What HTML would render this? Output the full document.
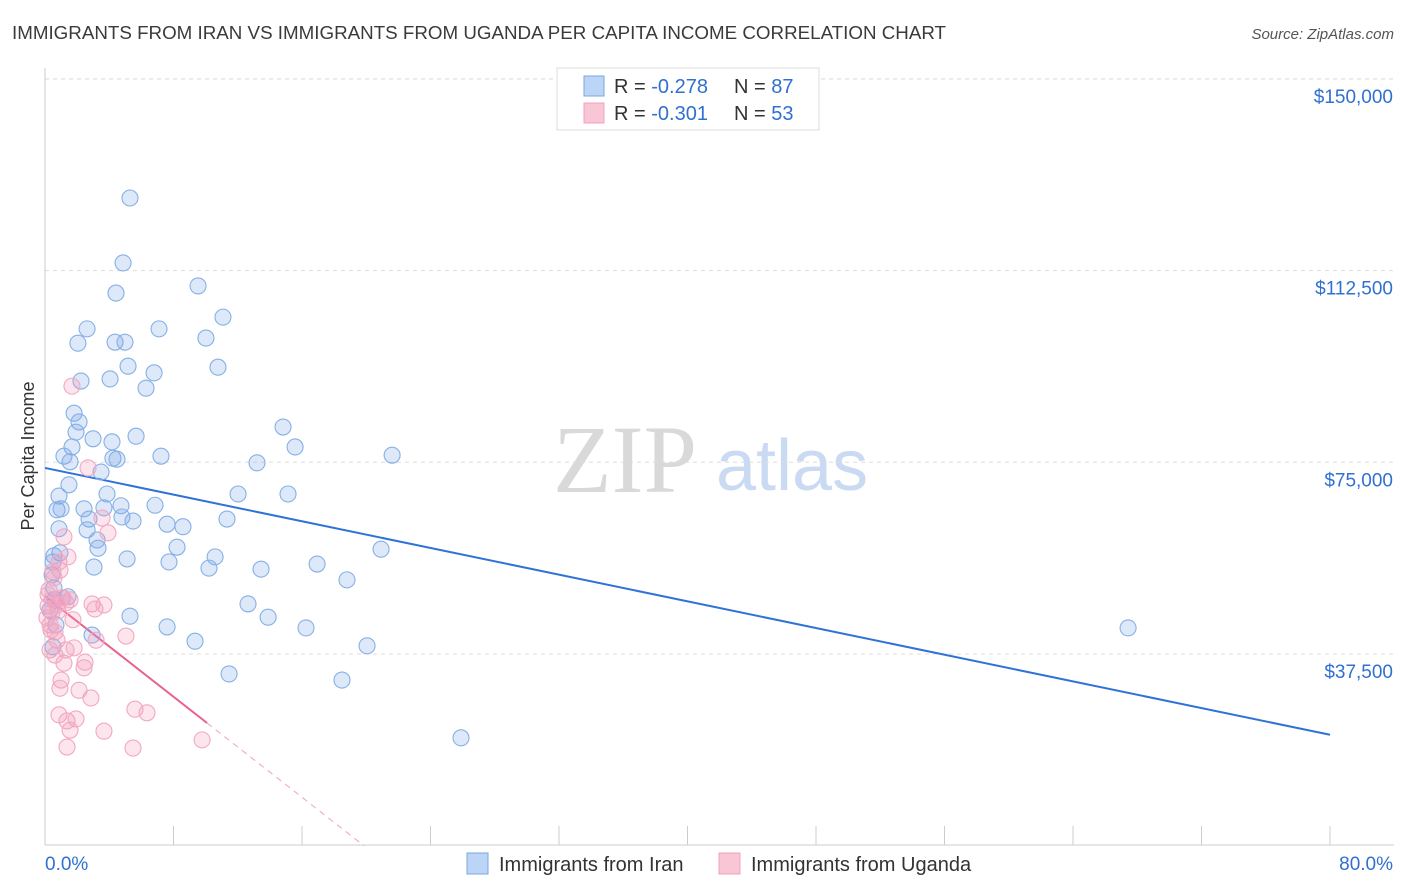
<!DOCTYPE html>
<html><head><meta charset="utf-8"><style>
body{margin:0;background:#fff;font-family:"Liberation Sans",sans-serif;}
svg{display:block}
</style></head><body>
<svg id="chart" width="1406" height="892" xmlns="http://www.w3.org/2000/svg">
<text x="12" y="39" font-size="18" fill="#3a3a3a" textLength="934" lengthAdjust="spacingAndGlyphs">IMMIGRANTS FROM IRAN VS IMMIGRANTS FROM UGANDA PER CAPITA INCOME CORRELATION CHART</text>
<text x="1394" y="39" font-size="15" fill="#555" font-style="italic" text-anchor="end">Source: ZipAtlas.com</text>
<g>
<text x="553" y="492" font-size="96" fill="#d9d9d9" font-family="Liberation Serif,serif">ZIP</text>
<text x="716" y="490" font-size="72" fill="#c9daf2">atlas</text>
</g>
<g id="grid"></g>
<g id="axes"></g>
<g id="lines"></g>
<g id="pts"></g>
<text transform="translate(34,456) rotate(-90)" font-size="18" fill="#333" text-anchor="middle">Per Capita Income</text>
<g>
<rect x="557" y="68" width="262" height="62" fill="#fff" stroke="#ddd"/>
<rect x="584" y="76" width="20" height="20" fill="#bcd4f5" stroke="#7aa7e0"/>
<rect x="584" y="103" width="20" height="20" fill="#f9c6d6" stroke="#f0a0bd"/>
<text x="614" y="93" font-size="20" fill="#333">R = <tspan fill="#3070d0">-0.278</tspan></text>
<text x="734" y="93" font-size="20" fill="#333">N = <tspan fill="#3070d0">87</tspan></text>
<text x="614" y="120" font-size="20" fill="#333">R = <tspan fill="#3070d0">-0.301</tspan></text>
<text x="734" y="120" font-size="20" fill="#333">N = <tspan fill="#3070d0">53</tspan></text>
</g>
<g>
<rect x="467" y="853" width="21" height="21" fill="#bcd4f5" stroke="#7aa7e0"/>
<text x="499" y="871" font-size="20" fill="#333">Immigrants from Iran</text>
<rect x="719" y="853" width="21" height="21" fill="#f9c6d6" stroke="#f0a0bd"/>
<text x="751" y="871" font-size="20" fill="#333">Immigrants from Uganda</text>
</g>
</svg>
<script>
const yTicks=[37500,75000,112500,150000];
const yTickLabels=["$37,500","$75,000","$112,500","$150,000"];
const xTicks=[0,8,16,24,32,40,48,56,64,72,80];
const xEndLabels=["0.0%","80.0%"];
const iranX=[5.29,4.86,4.42,9.53,11.08,2.62,7.10,2.05,4.36,4.98,10.02,5.17,10.77,6.79,2.24,4.05,6.29,1.81,2.12,1.93,2.99,4.17,5.67,1.68,7.22,1.18,1.56,4.23,4.48,13.20,14.82,15.57,21.61,3.49,1.49,0.87,3.86,12.02,15.13,6.85,0.75,2.43,3.67,4.73,1.0,2.74,4.79,5.48,11.33,7.60,8.59,0.87,2.62,3.24,3.30,0.93,0.56,8.22,5.11,10.59,20.92,0.50,3.05,7.72,10.21,13.45,16.94,18.80,0.44,12.64,13.89,5.29,7.60,16.25,67.43,2.93,9.34,20.05,11.46,18.49,25.90,0.56,0.68,0.50,1.43,0.62,0.31];
const iranY=[126.7,114.0,108.1,109.5,103.4,101.1,101.1,98.3,98.5,98.5,99.3,93.8,93.6,92.5,90.9,91.3,89.5,84.6,82.9,80.9,79.6,79.0,80.1,78.0,76.2,76.2,75.1,75.8,75.6,74.9,81.9,78.0,76.4,73.1,70.6,68.4,68.8,68.8,68.8,66.6,65.7,65.9,66.1,66.5,65.9,63.9,64.3,63.5,63.9,62.9,62.4,62.0,61.8,59.8,58.2,57.3,56.7,58.4,56.1,56.5,58.0,55.5,54.5,55.5,54.3,54.1,55.1,52.0,53.0,47.3,44.7,44.9,42.8,42.6,42.6,41.2,40.0,39.1,33.6,32.4,21.1,50.4,43.2,38.9,48.7,48.1,46.1];
const ugX=[1.68,2.68,3.55,3.92,1.18,1.43,0.87,0.93,0.50,0.56,0.25,1.06,1.31,1.56,0.19,0.44,0.81,2.93,3.67,1.74,0.31,0.62,0.75,3.18,5.04,1.31,1.81,2.49,2.43,1.18,1.0,0.93,2.12,2.86,5.60,6.35,0.87,1.37,1.93,1.56,3.67,1.37,5.48,9.78,0.31,0.62,0.19,0.44,0.75,1.12,0.12,0.37,3.11];
const ugY=[89.9,73.9,64.1,61.2,60.4,56.5,55.5,53.9,53.6,52.4,50.0,48.5,47.5,48.1,46.9,45.7,45.9,47.3,47.1,44.2,43.2,41.8,40.2,40.2,41.0,38.3,38.7,35.9,34.8,35.7,32.4,30.8,30.4,28.9,26.7,26.0,25.6,24.4,24.8,22.6,22.4,19.3,19.1,20.7,38.3,37.3,49.1,48.1,47.1,48.5,44.6,42.2,46.3];
const iranTrend=[73.9,21.7];
const ugTrend=[48.8,24.0];
const ugTrendEnd=10.09;

const NS="http://www.w3.org/2000/svg";
const X=v=>45+v*16.0625;
const Y=k=>845.7-k*5.112;
function mk(tag,attrs,parent){const e=document.createElementNS(NS,tag);for(const a in attrs)e.setAttribute(a,attrs[a]);document.getElementById(parent).appendChild(e);return e;}
mk('line',{x1:45,y1:79,x2:1394,y2:79,stroke:'#ddd','stroke-dasharray':'4,4'},'grid');
yTicks.forEach((t,i)=>{
 const g=mk('line',{x1:45,y1:Y(t/1000),x2:1394,y2:Y(t/1000),stroke:'#ddd','stroke-dasharray':'4,4'},'grid');
 
 
 const tx=mk('text',{x:1393,y:Y(t/1000)+24,'font-size':19,fill:'#3070d0','text-anchor':'end'},'axes');
 tx.textContent=yTickLabels[i];
 
 
});
const ax=mk('line',{x1:45,y1:845,x2:1394,y2:845,stroke:'#ccc'},'axes');


const ay=mk('line',{x1:45,y1:68,x2:45,y2:845,stroke:'#ccc'},'axes');


xTicks.forEach(t=>{
 const l=mk('line',{x1:X(t),y1:826,x2:X(t),y2:845,stroke:'#ccc'},'axes');
 
 
});
const xl0=mk('text',{x:45,y:870,'font-size':19,fill:'#3070d0'},'axes');
xl0.textContent=xEndLabels[0];


const xl1=mk('text',{x:1393,y:870,'font-size':19,fill:'#3070d0','text-anchor':'end'},'axes');
xl1.textContent=xEndLabels[1];



iranX.forEach((x,i)=>{
 const c=mk('circle',{cx:X(x),cy:Y(iranY[i]),r:8,fill:'rgba(120,165,230,0.25)',stroke:'#86b0e6','stroke-width':1.1},'pts');
 
 
});
ugX.forEach((x,i)=>{
 const c=mk('circle',{cx:X(x),cy:Y(ugY[i]),r:8,fill:'rgba(245,150,185,0.25)',stroke:'#f2a8c2','stroke-width':1.1},'pts');
 
 
});
const bl=mk('line',{x1:X(0),y1:Y(iranTrend[0]),x2:X(80),y2:Y(iranTrend[1]),stroke:'#2f73d8','stroke-width':2},'lines');


const slope=(ugTrend[1]-ugTrend[0])/ugTrendEnd;
const pl=mk('line',{x1:X(0),y1:Y(ugTrend[0]),x2:X(ugTrendEnd),y2:Y(ugTrend[1]),stroke:'#e8608e','stroke-width':2},'lines');


const zeroX=-ugTrend[0]/slope;
const pd=mk('line',{x1:X(ugTrendEnd),y1:Y(ugTrend[1]),x2:X(zeroX),y2:Y(0),stroke:'#f0a0bd','stroke-width':1,'stroke-dasharray':'6,5'},'lines');


</script>
</body></html>
